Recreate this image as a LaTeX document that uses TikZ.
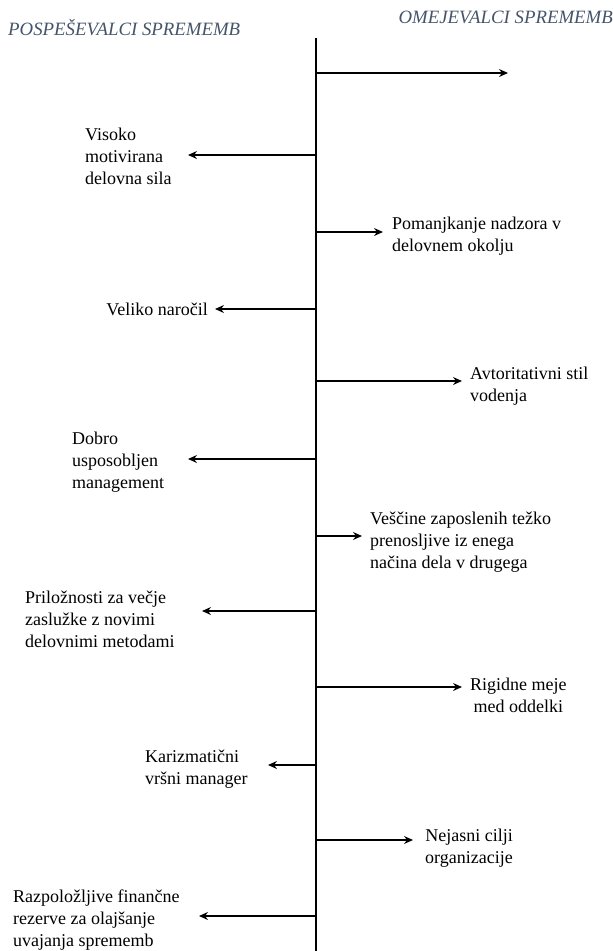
\documentclass[tikz,border=0pt]{standalone}
\usepackage{fontspec}
\setmainfont{Liberation Serif}
\usetikzlibrary{arrows.meta}
\definecolor{headblue}{HTML}{44546A}
\begin{document}
\begin{tikzpicture}[x=1pt,y=-1pt,
  axis/.style={line width=2pt},
  arr/.style={line width=1.3pt,-{Stealth[length=9pt,width=8pt,inset=3pt]}},
  head/.style={font=\fontsize{18.8}{22}\selectfont\itshape,text=headblue,inner sep=0pt},
  lab/.style={font=\fontsize{18}{22}\selectfont,inner sep=0pt,align=left,anchor=west},
  labc/.style={font=\fontsize{18}{22}\selectfont,inner sep=0pt,align=center,anchor=west}]
\useasboundingbox (0,0) rectangle (613,951);

% column headings
\node[head,anchor=west] (hl) at (8,28) {POSPEŠEVALCI SPREMEMB};
\node[head,anchor=east] (hr) at (613,17) {OMEJEVALCI SPREMEMB};

% central axis
\coordinate (top) at (316,38);
\coordinate (bot) at (316,951);
\draw[axis] (top) -- (bot);

% labels
\node[lab] (l2) at (85,156) {Visoko\\motivirana\\delovna sila};
\node[lab] (r3) at (392,236) {Pomanjkanje nadzora v\\delovnem okolju};
\node[lab,anchor=east] (l4) at (208,309) {Veliko naročil};
\node[lab] (r5) at (470,386) {Avtoritativni stil\\vodenja};
\node[lab] (l6) at (72,462) {Dobro\\usposobljen\\management};
\node[lab] (r7) at (370,542) {Veščine zaposlenih težko\\prenosljive iz enega\\načina dela v drugega};
\node[lab] (l8) at (25,619) {Priložnosti za večje\\zaslužke z novimi\\delovnimi metodami};
\node[labc] (r9) at (470,695) {Rigidne meje\\med oddelki};
\node[lab] (l10) at (145,769) {Karizmatični\\vršni manager};
\node[labc] (r11) at (425,848) {Nejasni cilji\\organizacije};
\node[lab] (l12) at (13,920) {Razpoložljive finančne\\rezerve za olajšanje\\uvajanja sprememb};

% arrow start points on the axis
\foreach \n/\y in {1/73,2/155,3/232,4/309,5/381,6/459,7/536,8/611,9/687,10/765,11/840,12/916}
  \coordinate (a\n) at (316,\y);

% arrow ends
\coordinate (e1) at (508,73);
\coordinate (e2) at (188,155);
\coordinate (e3) at (383,232);
\coordinate (e4) at (215,309);
\coordinate (e5) at (462,381);
\coordinate (e6) at (188,459);
\coordinate (e7) at (362,536);
\coordinate (e8) at (202,611);
\coordinate (e9) at (462,687);
\coordinate (e10) at (268,765);
\coordinate (e11) at (413,840);
\coordinate (e12) at (199,916);

\foreach \n in {1,...,12}
  \draw[arr] (a\n) -- (e\n);
\end{tikzpicture}
\end{document}
